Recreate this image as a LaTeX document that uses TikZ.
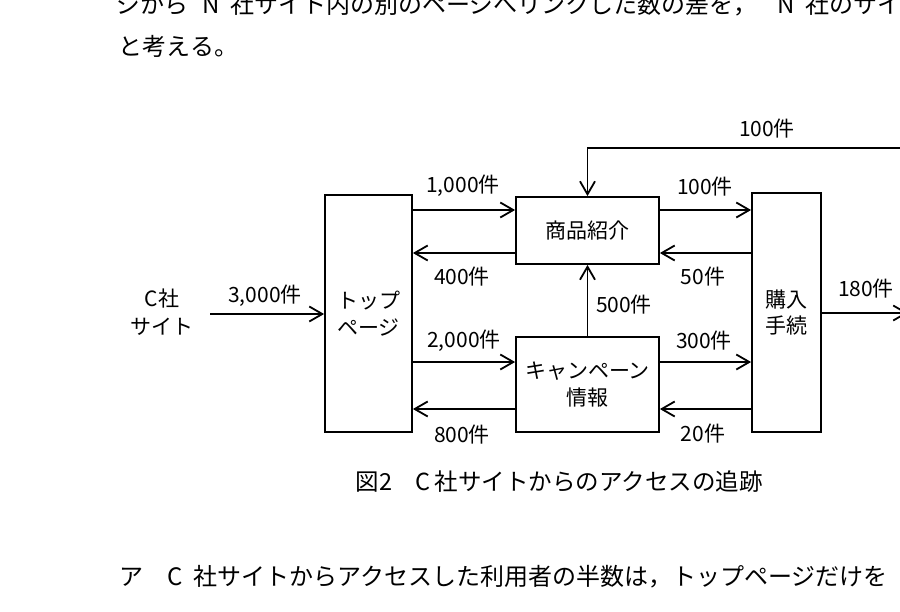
\documentclass[tikz,border=0pt]{standalone}
\usepackage{fontspec}
\setmainfont{Noto Sans CJK JP}
\usetikzlibrary{arrows.meta}
\newcommand\dgmfont{\fontsize{21}{26.5}\selectfont}
\newcommand\bodytxtfont{\fontsize{24}{28}\selectfont}
\newcommand\captxtfont{\fontsize{23.5}{28}\selectfont}
\begin{document}
\begin{tikzpicture}[x=1pt,y=-1pt,line width=1.8pt,
  box/.style={draw,inner sep=0pt,font=\dgmfont,align=center},
  arr/.style={-{Straight Barb[length=13pt,width=15pt]},line width=1.8pt},
  lbl/.style={font=\dgmfont,inner sep=0pt},
  bodytxt/.style={font=\bodytxtfont,inner sep=0pt,anchor=base west},
  captxt/.style={font=\captxtfont,inner sep=0pt,anchor=base west}]
\useasboundingbox (0,0) rectangle (900,611);
\clip (0,0) rectangle (900,611);

% surrounding text
\node[bodytxt] (t1) at (116,13) {ジから\hspace{14pt}N\hspace{10pt}社サイト内の別のページへリンクした数の差を，\hspace{20pt}N\hspace{10pt}社のサイト};
\node[bodytxt] (t2) at (118,55) {と考える。};
\node[captxt] (cap) at (355,490) {図2　C\hspace{4pt}社サイトからのアクセスの追跡};
\node[bodytxt] (t3) at (119,585) {ア　C\hspace{10pt}社サイトからアクセスした利用者の半数は，トップページだけを};

% boxes
\node[box,minimum width=87pt,minimum height=237pt] (top) at (368.5,313.5) {トップ\\ページ};
\node[box,minimum width=143pt,minimum height=67pt] (shohin) at (587.5,230.5) {商品紹介};
\node[box,minimum width=143pt,minimum height=95pt] (camp) at (587.5,384.5) {キャンペーン\\情報};
\node[box,minimum width=69pt,minimum height=239pt] (kounyu) at (786.5,312.5) {購入\\手続};
\node[lbl,align=center,font=\fontsize{21}{28}\selectfont] (csite) at (162,312) {C社\\サイト};

% row levels and free ends
\coordinate (r1) at (0,210);
\coordinate (r2) at (0,253);
\coordinate (r3) at (0,362);
\coordinate (r4) at (0,409);
\coordinate (cs) at (210,314);
\coordinate (exit) at (908,313);
\coordinate (fbstart) at (910,148);

% connectors
\draw[arr] (cs) -- (top.west |- cs);
\draw[arr] (top.east |- r1) -- (shohin.west |- r1);
\draw[arr] (shohin.west |- r2) -- (top.east |- r2);
\draw[arr] (top.east |- r3) -- (camp.west |- r3);
\draw[arr] (camp.west |- r4) -- (top.east |- r4);
\draw[arr] (shohin.east |- r1) -- (kounyu.west |- r1);
\draw[arr] (kounyu.west |- r2) -- (shohin.east |- r2);
\draw[arr] (camp.east |- r3) -- (kounyu.west |- r3);
\draw[arr] (kounyu.west |- r4) -- (camp.east |- r4);
\draw[arr] (camp.north) -- (shohin.south);
\draw[arr] (kounyu.east |- exit) -- (exit);
\draw[arr] (fbstart) -| (shohin.north);

% labels
\node[lbl] (l1) at (463,186) {1,000件};
\node[lbl] (l2) at (462,277) {400件};
\node[lbl] (l3) at (265,296) {3,000件};
\node[lbl] (l4) at (464,341) {2,000件};
\node[lbl] (l5) at (462,435) {800件};
\node[lbl] (l6) at (705,187) {100件};
\node[lbl] (l7) at (703,277) {50件};
\node[lbl] (l8) at (767,129) {100件};
\node[lbl] (l9) at (866,289) {180件};
\node[lbl] (l10) at (624,305) {500件};
\node[lbl] (l11) at (704,341) {300件};
\node[lbl] (l12) at (703,434) {20件};
\end{tikzpicture}
\end{document}
